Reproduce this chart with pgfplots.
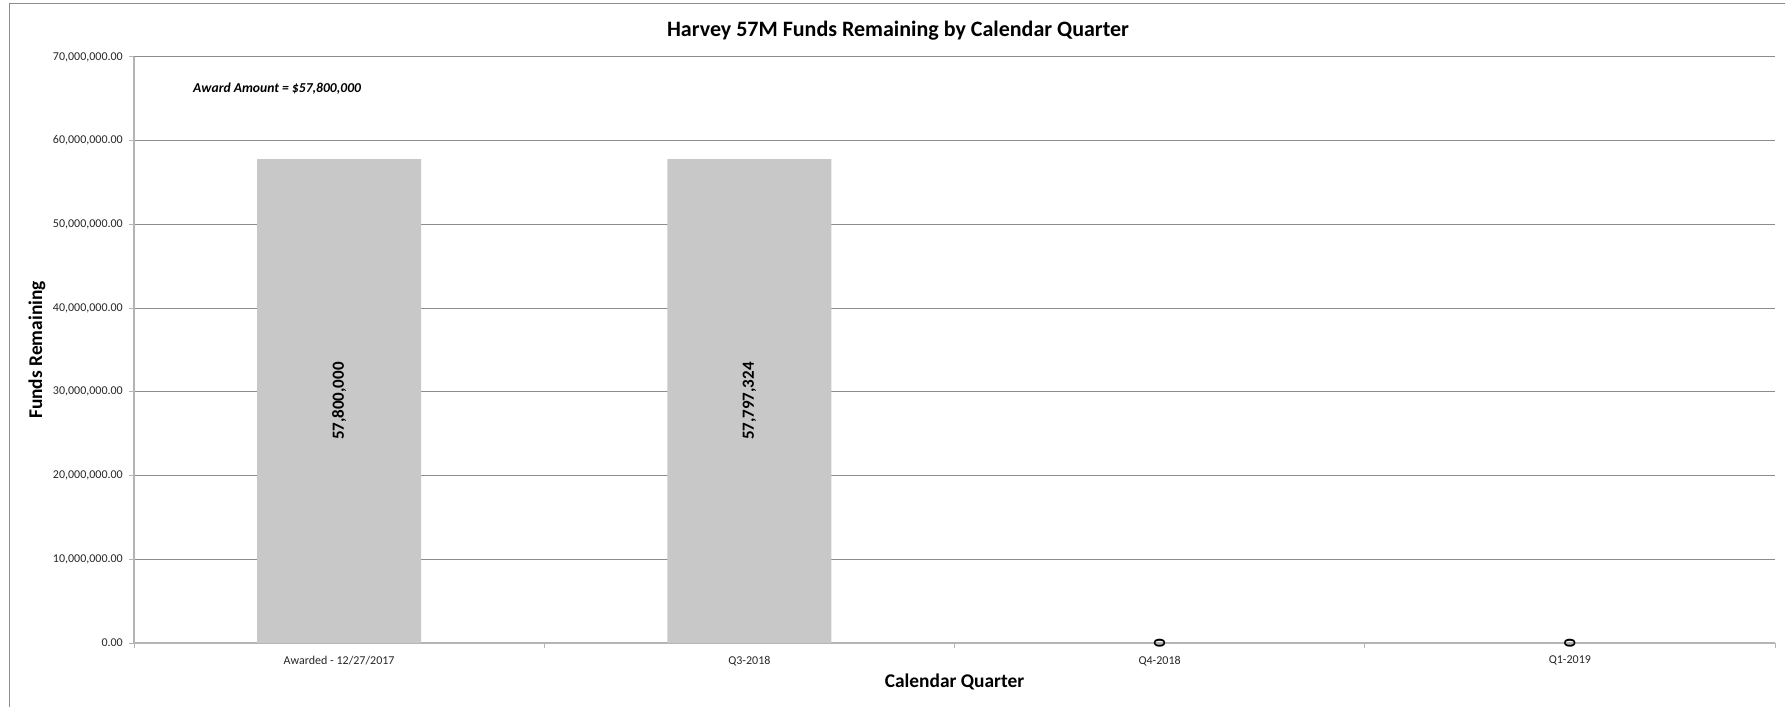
\documentclass[border=0pt]{standalone}
\usepackage{fontspec}
\setmainfont{Carlito}
\usepackage{pgfplots}
\usepackage{pgfplotstable}
\pgfplotsset{compat=1.18}

\definecolor{barfill}{RGB}{200,200,200}
\definecolor{gridc}{RGB}{140,140,140}
\definecolor{axisc}{RGB}{180,180,180}
\definecolor{framec}{RGB}{140,140,140}

% funds remaining per quarter; half = label position inside the bar
\pgfplotstableread{
x y half label
0 57800000 28900000 57,800,000
1 57797324 28898662 57,797,324
2 0 0 0
3 0 0 0
}\fundstable

\begin{document}
\begin{tikzpicture}[x=1pt,y=1pt]
\useasboundingbox (0,0) rectangle (1785,707);
\draw[framec, line width=1pt] (9,0) -- (9,703) -- (1785,703);

\begin{axis}[
  at={(134pt,64pt)}, anchor=south west,
  width=1641pt, height=586pt, scale only axis,
  xmin=-0.5, xmax=3.5, ymin=0, ymax=70000000,
  clip=false,
  axis x line*=bottom, axis y line*=left,
  axis line style={axisc, line width=1.2pt},
  x axis line style={line width=2pt, -},
  y axis line style={-},
  ymajorgrids, grid style={gridc, line width=1pt},
  ytick={0,10000000,20000000,30000000,40000000,50000000,60000000,70000000},
  scaled y ticks=false,
  yticklabel style={/pgf/number format/fixed, /pgf/number format/fixed zerofill,
    /pgf/number format/precision=2, /pgf/number format/1000 sep={,},
    /pgf/number format/assume math mode=true,
    font=\fontsize{12}{12}\selectfont, text=black!85, anchor=east, inner sep=0pt, xshift=-6pt},
  xtick={0,1,2,3},
  xticklabels={Awarded - 12/27/2017, Q3-2018, Q4-2018, Q1-2019},
  xticklabel style={font=\fontsize{12}{12}\selectfont, text=black!85, anchor=north, inner sep=0pt, yshift=-8pt},
  major x tick style={draw=none},
  minor xtick={-0.5,0.5,1.5,2.5,3.5},
  tick align=outside,
  major tick length=5pt, minor tick length=5pt,
  y tick style={axisc, line width=1pt},
  minor x tick style={axisc, line width=1pt},
]
\addplot[ybar, bar width=0.4, fill=barfill, draw=none] table[x=x, y=y] {\fundstable};
\addplot[draw=none, mark=none, nodes near coords, point meta=explicit symbolic,
  every node near coord/.style={rotate=90, anchor=center, inner sep=0pt,
    font=\bfseries\fontsize{17}{17}\selectfont}]
  table[x=x, y=half, meta=label] {\fundstable};
\end{axis}

\node[font=\bfseries\fontsize{22}{22}\selectfont] at (898,676) {Harvey 57M Funds Remaining by Calendar Quarter};
\node[font=\bfseries\fontsize{19.4}{19.4}\selectfont, rotate=90] at (37,357) {Funds Remaining};
\node[font=\bfseries\fontsize{19.4}{19.4}\selectfont] at (954.5,25) {Calendar Quarter};
\node[font=\bfseries\itshape\fontsize{13.6}{13.6}\selectfont, anchor=west, inner sep=0pt] at (193,618) {Award Amount = \$57,800,000};
\end{tikzpicture}
\end{document}
